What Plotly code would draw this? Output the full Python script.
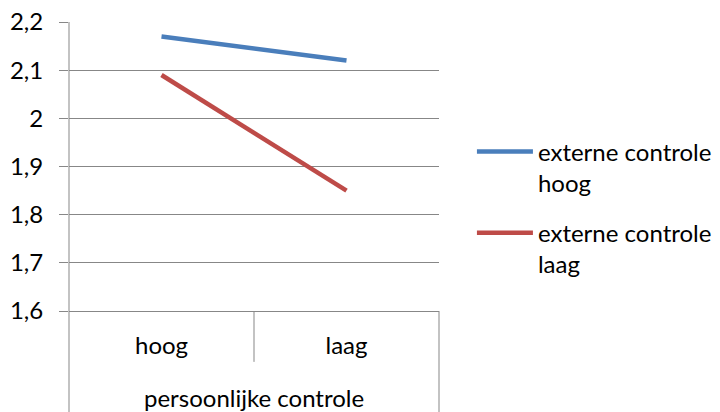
import plotly.graph_objects as go

categories = ["hoog", "laag"]
series_names = ["externe controle<br>hoog", "externe controle<br>laag"]
values_hoog = [2.17, 2.12]
values_laag = [2.09, 1.85]
y_tickvals = [1.6, 1.7, 1.8, 1.9, 2.0, 2.1, 2.2]
y_ticktext = ["1,6", "1,7", "1,8", "1,9", "2", "2,1", "2,2"]
x_title = "persoonlijke controle"

FONT = "Lato"
FS = 24
GRID = "#878787"
x_idx = list(range(len(categories)))

fig = go.Figure()
fig.add_trace(go.Scatter(x=x_idx, y=values_hoog, mode="lines", name=series_names[0],
                         legendgroup="a", line=dict(color="#4A7EBB", width=4.5)))
fig.add_trace(go.Scatter(x=x_idx, y=values_laag, mode="lines", name=series_names[1],
                         legendgroup="b", line=dict(color="#BE4B48", width=4.5)))

fig.update_layout(
    width=720, height=412,
    margin=dict(l=69, r=281, t=22, b=101, autoexpand=False),
    paper_bgcolor="white", plot_bgcolor="white",
    font=dict(family=FONT, size=FS, color="black"),
    showlegend=True,
    legend=dict(x=1.089, y=0.357, xanchor="left", yanchor="middle", valign="top",
                font=dict(family=FONT, size=FS, color="black"),
                itemwidth=56, tracegroupgap=16, bgcolor="rgba(0,0,0,0)"),
    xaxis=dict(range=[-0.5, 1.5], tickvals=x_idx, ticktext=categories,
               showgrid=False, zeroline=False, ticks="",
               showline=True, linecolor=GRID, linewidth=1,
               ticklabelstandoff=13, fixedrange=True, automargin=False),
    yaxis=dict(range=[1.6, 2.2], tickvals=y_tickvals, ticktext=y_ticktext,
               showgrid=True, gridcolor=GRID, gridwidth=1, zeroline=False,
               showline=False, ticks="outside", ticklen=9, tickcolor=GRID,
               ticklabelstandoff=11, fixedrange=True, automargin=False),
)

line = dict(color=GRID, width=1)
fig.add_shape(type="line", xref="paper", yref="paper", x0=0, x1=0, y0=-0.35, y1=1, line=line)
fig.add_shape(type="line", xref="paper", yref="paper", x0=0.5, x1=0.5, y0=-0.176, y1=0, line=line)
fig.add_shape(type="line", xref="paper", yref="paper", x0=1, x1=1, y0=-0.35, y1=0, line=line)

fig.add_annotation(text=x_title, xref="paper", yref="paper", x=0.5, y=-0.301,
                   showarrow=False, font=dict(family=FONT, size=FS, color="black"),
                   xanchor="center", yanchor="middle")

fig.write_html("out.html", config={"displayModeBar": False},
               post_script="document.body.style.margin='0';document.body.style.overflow='hidden';")
